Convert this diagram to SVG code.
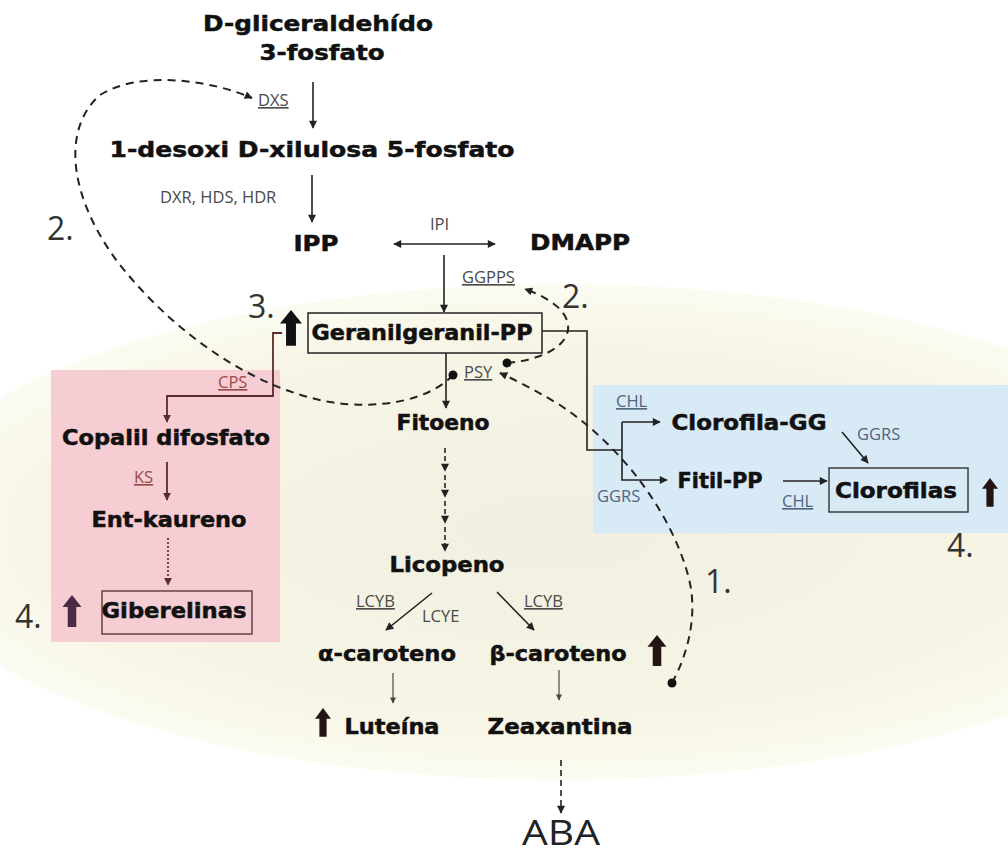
<svg xmlns="http://www.w3.org/2000/svg" width="1008" height="856" viewBox="0 0 1008 856">
<defs>
<style>
.b{font-family:"DejaVu Sans","Liberation Sans",sans-serif;font-weight:bold;font-size:21px;fill:#111;stroke:#111;stroke-width:0.5;text-anchor:middle}
.e{font-family:"Open Sans","Liberation Sans",sans-serif;font-size:16.5px;fill:#4a4a4a}
.u{text-decoration:underline}
.red{fill:#9b4a4a}
.blu{fill:#4d6680}
.n{font-family:"Open Sans","Liberation Sans",sans-serif;font-size:32px;fill:#333}
.ln{fill:none;stroke:#222;stroke-width:1.6}
.thin{fill:none;stroke:#555;stroke-width:1.3}
.dash{fill:none;stroke:#222;stroke-width:2;stroke-dasharray:8 6}
.box{fill:none;stroke:#222;stroke-width:1.5}
</style>
<radialGradient id="cream" cx="0.5" cy="0.5" r="0.5">
<stop offset="0" stop-color="#f1f0e0"/>
<stop offset="0.8" stop-color="#f7f6e6"/>
<stop offset="1" stop-color="#fcfbf2"/>
</radialGradient>
<marker id="ah" viewBox="0 0 10 10" refX="9" refY="5" markerWidth="9" markerHeight="8" markerUnits="userSpaceOnUse" orient="auto-start-reverse">
<path d="M0,0 L10,5 L0,10 z" fill="#222"/>
</marker>
<marker id="ahs" viewBox="0 0 10 10" refX="9" refY="5" markerWidth="7" markerHeight="6" markerUnits="userSpaceOnUse" orient="auto">
<path d="M0,0 L10,5 L0,10 z" fill="#444"/>
</marker>
<marker id="ahr" viewBox="0 0 10 10" refX="9" refY="5" markerWidth="8" markerHeight="8" markerUnits="userSpaceOnUse" orient="auto">
<path d="M0,0 L10,5 L0,10 z" fill="#5a2b2b"/>
</marker>
<path id="up" d="M0,0 L10,12 L4.5,12 L4.5,32 L-4.5,32 L-4.5,12 L-10,12 Z"/>
</defs>

<rect width="1008" height="856" fill="#ffffff"/>
<ellipse cx="560" cy="532" rx="665" ry="248" fill="url(#cream)"/>
<rect x="51" y="370" width="229" height="272" fill="#f5cdd2"/>
<rect x="593" y="385" width="415" height="148" fill="#d9eaf7"/>

<g id="connectors">
<line class="ln" x1="313" y1="82" x2="313" y2="128" marker-end="url(#ah)"/>
<line class="ln" x1="312" y1="175" x2="312" y2="222" marker-end="url(#ah)"/>
<line class="ln" x1="394" y1="244" x2="495" y2="244" stroke-width="2" marker-start="url(#ah)" marker-end="url(#ah)"/>
<line class="ln" x1="444" y1="255" x2="444" y2="312" marker-end="url(#ah)"/>
<line class="ln" x1="446" y1="353" x2="446" y2="408" marker-end="url(#ah)"/>
<g stroke-dasharray="5 3">
<line class="ln" x1="445" y1="448" x2="445" y2="471" marker-end="url(#ah)"/>
<line class="ln" x1="445" y1="475" x2="445" y2="497" marker-end="url(#ah)"/>
<line class="ln" x1="445" y1="501" x2="445" y2="523" marker-end="url(#ah)"/>
<line class="ln" x1="445" y1="527" x2="445" y2="551" marker-end="url(#ah)"/>
</g>
<line class="ln" x1="432" y1="593" x2="386" y2="630" marker-end="url(#ah)"/>
<line class="ln" x1="497" y1="592" x2="534" y2="630" marker-end="url(#ah)"/>
<line class="thin" x1="393" y1="673" x2="393" y2="703" marker-end="url(#ahs)"/>
<line class="thin" x1="559" y1="670" x2="559" y2="700" marker-end="url(#ahs)"/>
<line class="ln" x1="561" y1="760" x2="561" y2="813" stroke-dasharray="6 4" marker-end="url(#ah)"/>
<polyline fill="none" stroke="#5a2b2b" stroke-width="1.8" points="282,333 273,333 273,396 167,396 167,422" marker-end="url(#ahr)"/>
<line x1="167" y1="462" x2="167" y2="500" stroke="#5a2b2b" stroke-width="1.8" marker-end="url(#ahr)"/>
<line x1="168" y1="538" x2="168" y2="585" stroke="#6a3a3a" stroke-width="1.8" stroke-dasharray="2 2" marker-end="url(#ahr)"/>
<polyline class="ln" points="542,331 587,331 587,450 622,450"/>
<polyline class="ln" points="622,422 622,480 667,480" marker-end="url(#ah)"/>
<line class="ln" x1="622" y1="422" x2="660" y2="422" marker-end="url(#ah)"/>
<line class="ln" x1="783" y1="481" x2="827" y2="481" marker-end="url(#ah)"/>
<line class="ln" x1="842" y1="432" x2="868" y2="463" marker-end="url(#ah)"/>
<path class="dash" d="M453,375 C430,400 380,410 330,402 C260,390 180,340 120,265 C70,200 60,130 100,95 C140,70 210,80 252,98" marker-end="url(#ah)"/>
<path class="dash" d="M507,363 C540,360 565,348 568,330 C570,312 550,298 525,289" marker-end="url(#ah)"/>
<path class="dash" d="M672,683 C690,650 698,610 688,575 C670,510 620,445 560,405 C540,393 520,382 500,373" marker-end="url(#ah)"/>
<circle cx="453" cy="375" r="4.5" fill="#111"/>
<circle cx="507" cy="363" r="4.5" fill="#111"/>
<circle cx="672" cy="683" r="4.5" fill="#111"/>
</g>

<g id="n-g3p"><text class="b" x="318" y="31" font-size="22" textLength="230" lengthAdjust="spacingAndGlyphs">D-gliceraldehído</text><text class="b" x="322" y="60" font-size="22" textLength="125" lengthAdjust="spacingAndGlyphs">3-fosfato</text></g>
<g id="n-dxp"><text class="b" x="312" y="157" font-size="23" textLength="405" lengthAdjust="spacingAndGlyphs">1-desoxi D-xilulosa 5-fosfato</text></g>
<g id="n-ipp"><text class="b" x="316" y="251" textLength="45" lengthAdjust="spacingAndGlyphs">IPP</text></g>
<g id="n-dmapp"><text class="b" x="580" y="250" textLength="100" lengthAdjust="spacingAndGlyphs">DMAPP</text></g>
<g id="n-ggpp"><rect class="box" x="308" y="313" width="234" height="40"/><text class="b" x="422" y="340" textLength="221" lengthAdjust="spacingAndGlyphs">Geranilgeranil-PP</text></g>
<g id="n-fitoeno"><text class="b" x="443" y="430" textLength="93" lengthAdjust="spacingAndGlyphs">Fitoeno</text></g>
<g id="n-licopeno"><text class="b" x="447" y="572" textLength="115" lengthAdjust="spacingAndGlyphs">Licopeno</text></g>
<g id="n-acar"><text class="b" x="387" y="661" textLength="138" lengthAdjust="spacingAndGlyphs">α-caroteno</text></g>
<g id="n-bcar"><text class="b" x="558" y="661" textLength="137" lengthAdjust="spacingAndGlyphs">β-caroteno</text><use href="#up" transform="translate(657,635) scale(0.95,0.97)" fill="#241414"/></g>
<g id="n-luteina"><use href="#up" transform="translate(323,708) scale(0.8,0.9)" fill="#241414"/><text class="b" x="392" y="734" textLength="95" lengthAdjust="spacingAndGlyphs">Luteína</text></g>
<g id="n-zeax"><text class="b" x="560" y="734" textLength="145" lengthAdjust="spacingAndGlyphs">Zeaxantina</text></g>
<g id="n-aba"><text x="561" y="845" font-family="'Open Sans','Liberation Sans',sans-serif" font-size="34" fill="#222" text-anchor="middle" textLength="78" lengthAdjust="spacingAndGlyphs">ABA</text></g>
<g id="n-copalil"><text class="b" x="166" y="445" textLength="208" lengthAdjust="spacingAndGlyphs">Copalil difosfato</text></g>
<g id="n-kaureno"><text class="b" x="169" y="527" textLength="155" lengthAdjust="spacingAndGlyphs">Ent-kaureno</text></g>
<g id="n-giber"><rect x="102" y="591" width="150" height="43" fill="none" stroke="#5a3a3a" stroke-width="1.4"/><text class="b" x="174" y="618" textLength="145" lengthAdjust="spacingAndGlyphs">Giberelinas</text><use href="#up" transform="translate(72,595) scale(0.95,1)" fill="#4a2a44"/></g>
<g id="n-clgg"><text class="b" x="749" y="430" textLength="155" lengthAdjust="spacingAndGlyphs">Clorofila-GG</text></g>
<g id="n-fitil"><text class="b" x="720" y="488" textLength="85" lengthAdjust="spacingAndGlyphs">Fitil-PP</text></g>
<g id="n-clorofilas"><rect x="829" y="468" width="139" height="44" fill="none" stroke="#333" stroke-width="1.4"/><text class="b" x="896" y="498" textLength="122" lengthAdjust="spacingAndGlyphs">Clorofilas</text><use href="#up" transform="translate(990,478) scale(0.8,0.9)" fill="#241414"/></g>
<g id="n-up3"><use href="#up" transform="translate(291,310) scale(1.1,1.12)" fill="#111"/></g>

<g id="labels">
<text class="e u" x="258" y="106">DXS</text>
<text class="e" x="160" y="203">DXR, HDS, HDR</text>
<text class="e" x="430" y="230">IPI</text>
<text class="e u" x="462" y="283">GGPPS</text>
<text class="e u" x="464" y="378">PSY</text>
<text class="e u red" x="218" y="388">CPS</text>
<text class="e u red" x="134" y="483">KS</text>
<text class="e u blu" x="616" y="407">CHL</text>
<text class="e blu" x="857" y="440">GGRS</text>
<text class="e blu" x="597" y="502">GGRS</text>
<text class="e u blu" x="782" y="507">CHL</text>
<text class="e u" x="356" y="607">LCYB</text>
<text class="e" x="422" y="622">LCYE</text>
<text class="e u" x="524" y="607">LCYB</text>
<text class="n" x="47" y="240">2.</text>
<text class="n" x="562" y="308">2.</text>
<text class="n" x="248" y="318">3.</text>
<text class="n" x="15" y="628">4.</text>
<text class="n" x="947" y="557">4.</text>
<text class="n" x="705" y="593">1.</text>
</g>
</svg>
